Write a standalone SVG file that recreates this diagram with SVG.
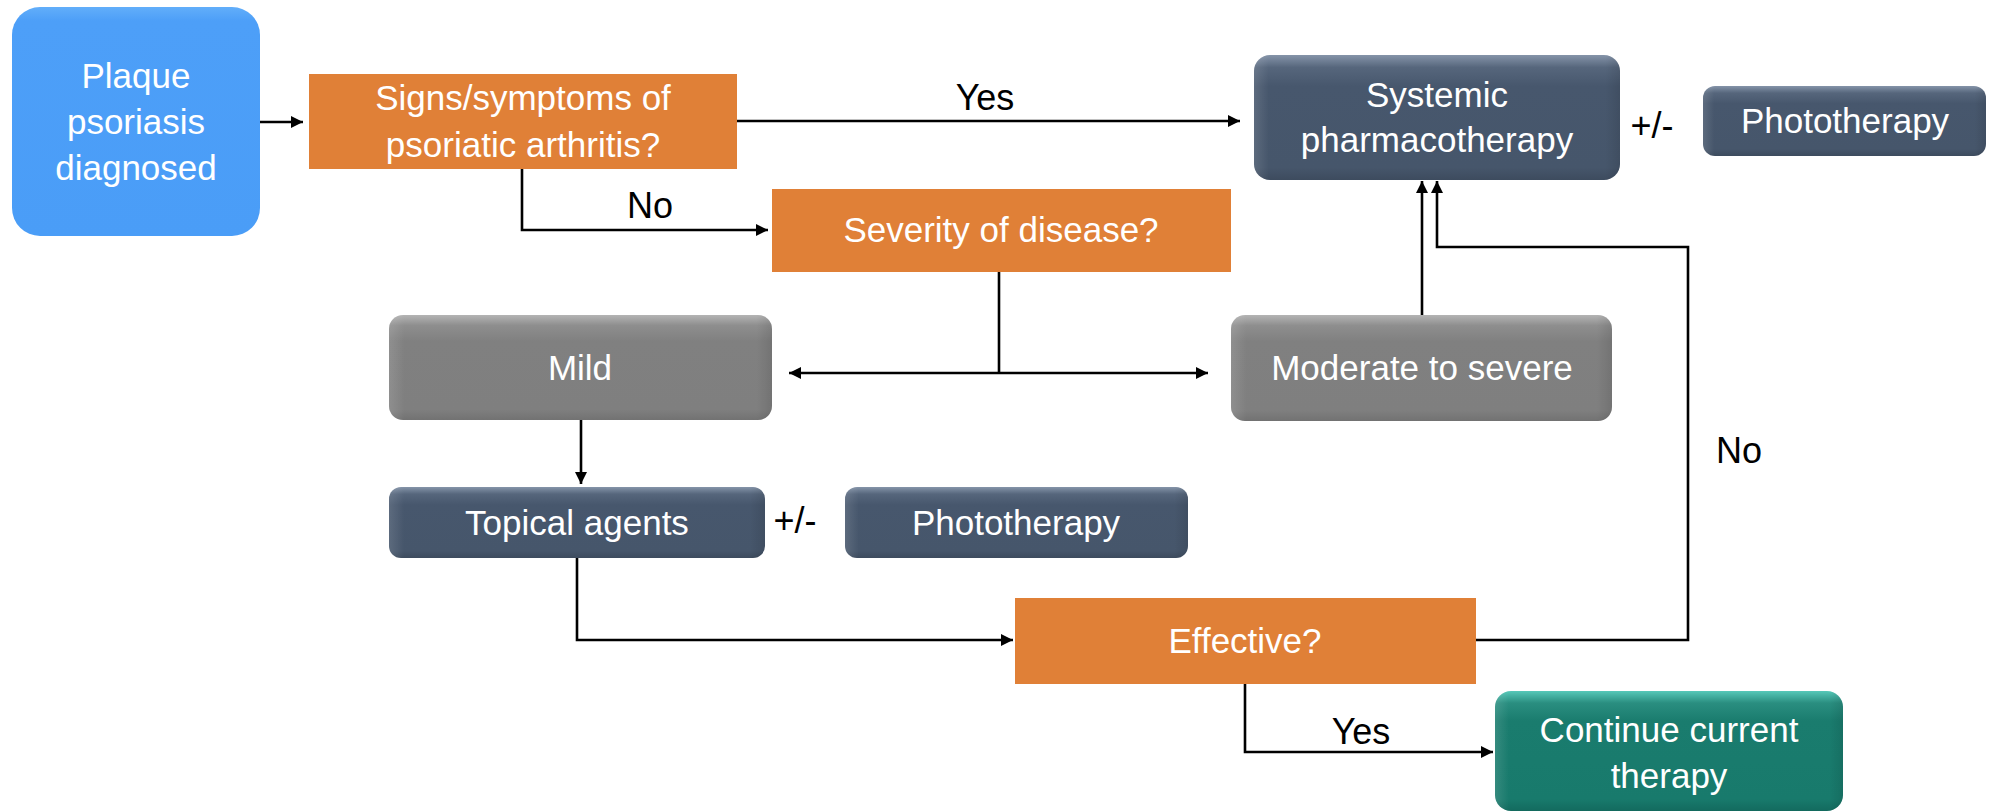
<svg xmlns="http://www.w3.org/2000/svg" width="1995" height="812" viewBox="0 0 1995 812">
<defs>
<linearGradient id="gSlate" x1="0" y1="0" x2="0" y2="1">
<stop offset="0" stop-color="#8594A9"/><stop offset="0.1" stop-color="#56667C"/><stop offset="0.25" stop-color="#47576D"/><stop offset="0.9" stop-color="#46566B"/><stop offset="1" stop-color="#3D4B5E"/>
</linearGradient>
<linearGradient id="gGray" x1="0" y1="0" x2="0" y2="1">
<stop offset="0" stop-color="#B4B4B4"/><stop offset="0.1" stop-color="#8E8E8E"/><stop offset="0.25" stop-color="#808080"/><stop offset="0.9" stop-color="#7F7F7F"/><stop offset="1" stop-color="#727272"/>
</linearGradient>
<linearGradient id="gTeal" x1="0" y1="0" x2="0" y2="1">
<stop offset="0" stop-color="#56C8B8"/><stop offset="0.1" stop-color="#2A8E80"/><stop offset="0.25" stop-color="#1A7C6E"/><stop offset="0.9" stop-color="#187A6C"/><stop offset="1" stop-color="#136A5E"/>
</linearGradient>
<linearGradient id="gBlue" x1="0" y1="0" x2="0" y2="1">
<stop offset="0" stop-color="#62AEFA"/><stop offset="0.06" stop-color="#4D9FF8"/><stop offset="1" stop-color="#4A9DF7"/>
</linearGradient>
<linearGradient id="gSide" x1="0" y1="0" x2="1" y2="0">
<stop offset="0" stop-color="#FFFFFF" stop-opacity="0.12"/><stop offset="0.04" stop-color="#FFFFFF" stop-opacity="0"/><stop offset="0.96" stop-color="#000000" stop-opacity="0"/><stop offset="1" stop-color="#000000" stop-opacity="0.1"/>
</linearGradient>
<marker id="arr" markerUnits="userSpaceOnUse" markerWidth="13" markerHeight="12" refX="12" refY="6" orient="auto">
<path d="M0,0 L12,6 L0,12 z" fill="#000"/>
</marker>
<style>
.t{font-family:"Liberation Sans",Arial,sans-serif;font-size:35px;fill:#FFFFFF;text-anchor:middle}
.k{font-family:"Liberation Sans",Arial,sans-serif;font-size:36px;fill:#000000;text-anchor:middle}
.c{fill:none;stroke:#000;stroke-width:2.6}
.a{marker-end:url(#arr)}
.or{fill:#E08037}
.sl{fill:url(#gSlate)}
.gr{fill:url(#gGray)}
.te{fill:url(#gTeal)}
.bl{fill:url(#gBlue)}
.sd{fill:url(#gSide)}
</style>
</defs>
<rect width="1995" height="812" fill="#FFFFFF"/>

<g id="connectors">
<path class="c a" d="M260,122 H303"/>
<path class="c a" d="M737,121 H1240"/>
<path class="c a" d="M522,169 V230 H768"/>
<path class="c" d="M999,272 V373"/>
<path class="c a" d="M999,373 H789"/>
<path class="c a" d="M999,373 H1208"/>
<path class="c a" d="M1422,315 V181"/>
<path class="c a" d="M581,420 V484"/>
<path class="c a" d="M577,558 V640 H1013"/>
<path class="c a" d="M1476,640 H1688 V247 H1437 V181"/>
<path class="c a" d="M1245,684 V752 H1493"/>
</g>

<g id="plaque">
<rect class="bl" x="12" y="7" width="248" height="229" rx="28"/>
<text class="t" x="136" y="88">Plaque</text>
<text class="t" x="136" y="134">psoriasis</text>
<text class="t" x="136" y="180">diagnosed</text>
</g>

<g id="signs">
<rect class="or" x="309" y="74" width="428" height="95"/>
<text class="t" x="523" y="110">Signs/symptoms of</text>
<text class="t" x="523" y="157">psoriatic arthritis?</text>
</g>

<g id="systemic">
<rect class="sl" x="1254" y="55" width="366" height="125" rx="16"/>
<rect class="sd" x="1254" y="55" width="366" height="125" rx="16"/>
<text class="t" x="1437" y="107">Systemic</text>
<text class="t" x="1437" y="152">pharmacotherapy</text>
</g>

<g id="phototherapy-top">
<rect class="sl" x="1703" y="86" width="283" height="70" rx="12"/>
<rect class="sd" x="1703" y="86" width="283" height="70" rx="12"/>
<text class="t" x="1845" y="133">Phototherapy</text>
</g>

<g id="severity">
<rect class="or" x="772" y="189" width="459" height="83"/>
<text class="t" x="1001" y="242">Severity of disease?</text>
</g>

<g id="mild">
<rect class="gr" x="389" y="315" width="383" height="105" rx="14"/>
<rect class="sd" x="389" y="315" width="383" height="105" rx="14"/>
<text class="t" x="580" y="380">Mild</text>
</g>

<g id="moderate">
<rect class="gr" x="1231" y="315" width="381" height="106" rx="14"/>
<rect class="sd" x="1231" y="315" width="381" height="106" rx="14"/>
<text class="t" x="1422" y="380">Moderate to severe</text>
</g>

<g id="topical">
<rect class="sl" x="389" y="487" width="376" height="71" rx="12"/>
<rect class="sd" x="389" y="487" width="376" height="71" rx="12"/>
<text class="t" x="577" y="535">Topical agents</text>
</g>

<g id="phototherapy-mid">
<rect class="sl" x="845" y="487" width="343" height="71" rx="12"/>
<rect class="sd" x="845" y="487" width="343" height="71" rx="12"/>
<text class="t" x="1016" y="535">Phototherapy</text>
</g>

<g id="effective">
<rect class="or" x="1015" y="598" width="461" height="86"/>
<text class="t" x="1245" y="653">Effective?</text>
</g>

<g id="continue">
<rect class="te" x="1495" y="691" width="348" height="120" rx="16"/>
<rect class="sd" x="1495" y="691" width="348" height="120" rx="16"/>
<text class="t" x="1669" y="742">Continue current</text>
<text class="t" x="1669" y="788">therapy</text>
</g>

<g id="labels">
<text class="k" x="985" y="110">Yes</text>
<text class="k" x="650" y="218">No</text>
<text class="k" x="1652" y="138">+/-</text>
<text class="k" x="795" y="533">+/-</text>
<text class="k" x="1739" y="463">No</text>
<text class="k" x="1361" y="744">Yes</text>
</g>
</svg>
